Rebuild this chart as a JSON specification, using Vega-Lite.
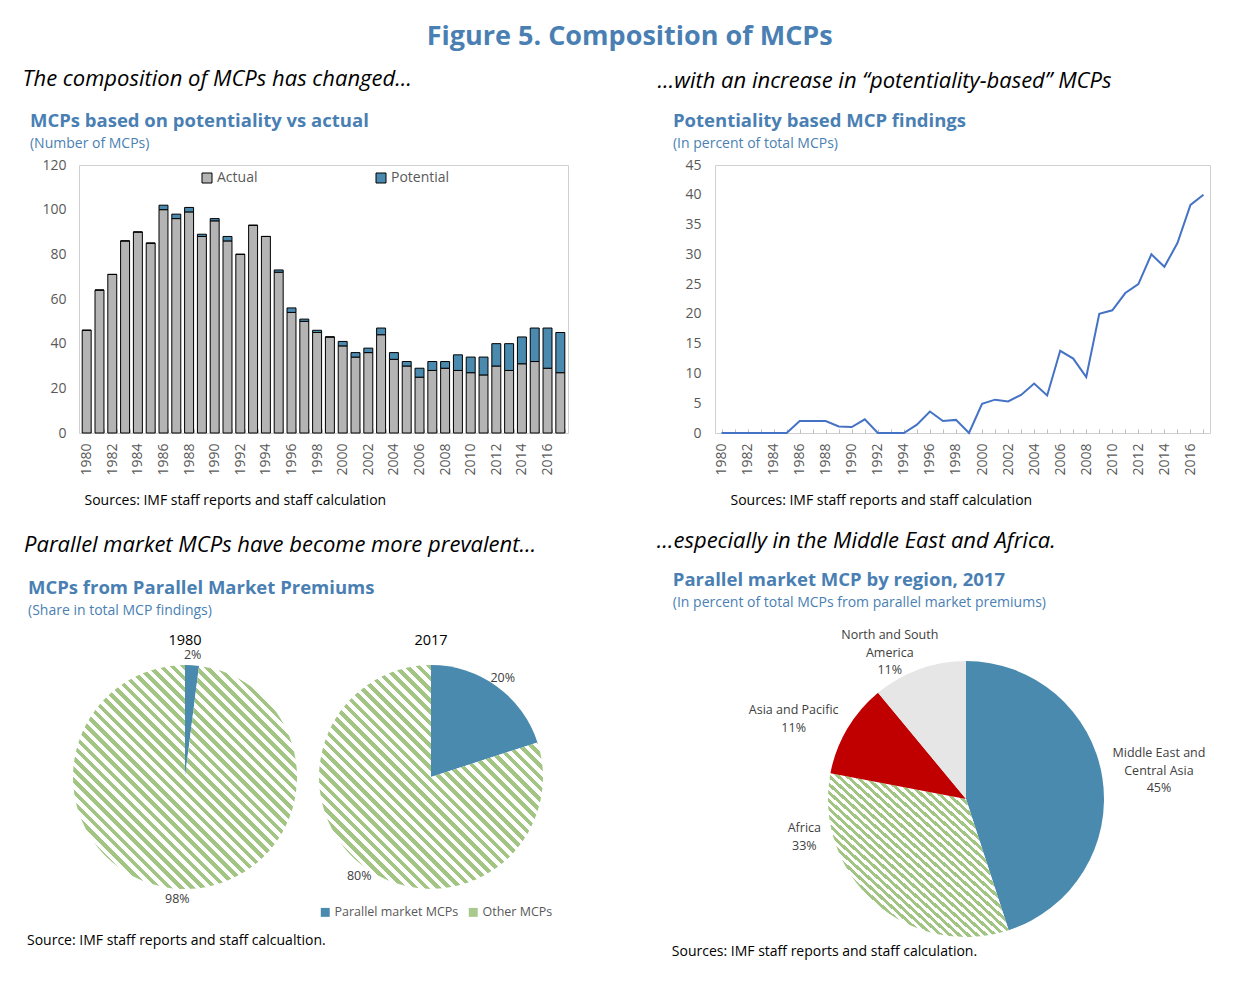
{
"$schema": "https://vega.github.io/schema/vega-lite/v6.json",
"background": "#ffffff",
"padding": {"left": 22, "top": 22, "right": 5, "bottom": 5},
"title": {"text": "Figure 5. Composition of MCPs", "anchor": "middle", "font": "Open Sans", "fontSize": 27, "fontWeight": "bold", "color": "#4a7fb3", "offset": 17, "dx": 13},
"config": {
  "font": "Open Sans",
  "view": {"stroke": null},
  "axis": {"labelFont": "Open Sans", "labelFontSize": 14, "labelColor": "#595959", "titleFont": "Open Sans", "grid": false, "domain": false, "ticks": false},
  "legend": {"labelFont": "Open Sans", "titleFont": "Open Sans"},
  "header": {"labelFont": "Open Sans"}
},
"datasets": {
  "bars": [
    {"year": 1980, "Actual": 46, "Potential": 0},
    {"year": 1981, "Actual": 64, "Potential": 0},
    {"year": 1982, "Actual": 71, "Potential": 0},
    {"year": 1983, "Actual": 86, "Potential": 0},
    {"year": 1984, "Actual": 90, "Potential": 0},
    {"year": 1985, "Actual": 85, "Potential": 0},
    {"year": 1986, "Actual": 100, "Potential": 2},
    {"year": 1987, "Actual": 96, "Potential": 2},
    {"year": 1988, "Actual": 99, "Potential": 2},
    {"year": 1989, "Actual": 88, "Potential": 1},
    {"year": 1990, "Actual": 95, "Potential": 1},
    {"year": 1991, "Actual": 86, "Potential": 2},
    {"year": 1992, "Actual": 80, "Potential": 0},
    {"year": 1993, "Actual": 93, "Potential": 0},
    {"year": 1994, "Actual": 88, "Potential": 0},
    {"year": 1995, "Actual": 72, "Potential": 1},
    {"year": 1996, "Actual": 54, "Potential": 2},
    {"year": 1997, "Actual": 50, "Potential": 1},
    {"year": 1998, "Actual": 45, "Potential": 1},
    {"year": 1999, "Actual": 43, "Potential": 0},
    {"year": 2000, "Actual": 39, "Potential": 2},
    {"year": 2001, "Actual": 34, "Potential": 2},
    {"year": 2002, "Actual": 36, "Potential": 2},
    {"year": 2003, "Actual": 44, "Potential": 3},
    {"year": 2004, "Actual": 33, "Potential": 3},
    {"year": 2005, "Actual": 30, "Potential": 2},
    {"year": 2006, "Actual": 25, "Potential": 4},
    {"year": 2007, "Actual": 28, "Potential": 4},
    {"year": 2008, "Actual": 29, "Potential": 3},
    {"year": 2009, "Actual": 28, "Potential": 7},
    {"year": 2010, "Actual": 27, "Potential": 7},
    {"year": 2011, "Actual": 26, "Potential": 8},
    {"year": 2012, "Actual": 30, "Potential": 10},
    {"year": 2013, "Actual": 28, "Potential": 12},
    {"year": 2014, "Actual": 31, "Potential": 12},
    {"year": 2015, "Actual": 32, "Potential": 15},
    {"year": 2016, "Actual": 29, "Potential": 18},
    {"year": 2017, "Actual": 27, "Potential": 18}
  ],
  "line": [
    {"year": 1980, "pct": 0}, {"year": 1981, "pct": 0}, {"year": 1982, "pct": 0}, {"year": 1983, "pct": 0},
    {"year": 1984, "pct": 0}, {"year": 1985, "pct": 0}, {"year": 1986, "pct": 2.0}, {"year": 1987, "pct": 2.0},
    {"year": 1988, "pct": 2.0}, {"year": 1989, "pct": 1.1}, {"year": 1990, "pct": 1.0}, {"year": 1991, "pct": 2.3},
    {"year": 1992, "pct": 0}, {"year": 1993, "pct": 0}, {"year": 1994, "pct": 0}, {"year": 1995, "pct": 1.4},
    {"year": 1996, "pct": 3.6}, {"year": 1997, "pct": 2.0}, {"year": 1998, "pct": 2.2}, {"year": 1999, "pct": 0},
    {"year": 2000, "pct": 4.9}, {"year": 2001, "pct": 5.6}, {"year": 2002, "pct": 5.3}, {"year": 2003, "pct": 6.4},
    {"year": 2004, "pct": 8.3}, {"year": 2005, "pct": 6.3}, {"year": 2006, "pct": 13.8}, {"year": 2007, "pct": 12.5},
    {"year": 2008, "pct": 9.4}, {"year": 2009, "pct": 20.0}, {"year": 2010, "pct": 20.6}, {"year": 2011, "pct": 23.5},
    {"year": 2012, "pct": 25.0}, {"year": 2013, "pct": 30.0}, {"year": 2014, "pct": 27.9}, {"year": 2015, "pct": 31.9},
    {"year": 2016, "pct": 38.3}, {"year": 2017, "pct": 40.0}
  ],
  "pies": [
    {"year": "1980", "cat": "Parallel market MCPs", "share": 2, "label": "2%"},
    {"year": "1980", "cat": "Other MCPs", "share": 98, "label": "98%"},
    {"year": "2017", "cat": "Parallel market MCPs", "share": 20, "label": "20%"},
    {"year": "2017", "cat": "Other MCPs", "share": 80, "label": "80%"}
  ],
  "regions": [
    {"region": "Middle East and Central Asia", "share": 45, "label": "Middle East and\nCentral Asia\n45%"},
    {"region": "Africa", "share": 33, "label": "Africa\n33%"},
    {"region": "Asia and Pacific", "share": 11, "label": "Asia and Pacific\n11%"},
    {"region": "North and South America", "share": 11, "label": "North and South\nAmerica\n11%"}
  ]
},
"resolve": {"scale": {"color": "independent", "theta": "independent"}, "legend": {"color": "independent"}},
"spacing": 22,
"vconcat": [
 {
  "spacing": 88,
  "hconcat": [
   {
    "title": {"text": "The composition of MCPs has changed…", "anchor": "start", "font": "Open Sans", "fontSize": 22, "fontStyle": "italic", "fontWeight": "normal", "color": "#000000", "offset": 21, "dx": -7},
    "vconcat": [
     {
      "title": {"text": "MCPs based on potentiality vs actual", "subtitle": "(Number of MCPs)", "anchor": "start", "font": "Open Sans", "fontSize": 18.5, "fontWeight": "bold", "color": "#4a7fb3", "subtitleFont": "Open Sans", "subtitleFontSize": 14, "subtitleColor": "#4a7fb3", "subtitlePadding": 6.5, "offset": 7, "dx": -12},
      "width": 489,
      "height": 268,
      "view": {"stroke": "#d0d0d0"},
      "data": {"name": "bars"},
      "transform": [{"fold": ["Actual", "Potential"], "as": ["type", "count"]}],
      "mark": {"type": "bar", "stroke": "#000000", "strokeWidth": 1},
      "encoding": {
        "x": {"field": "year", "type": "ordinal", "scale": {"paddingInner": 0.3, "paddingOuter": 0.25},
              "axis": {"labelAngle": -90, "labelExpr": "datum.value % 2 == 0 ? datum.label : ''", "labelPadding": 14, "ticks": true, "tickSize": -4, "tickBand": "extent", "tickColor": "#bfbfbf",
                       "title": "Sources: IMF staff reports and staff calculation", "titleFontSize": 14, "titleFontWeight": "normal", "titleColor": "#000000", "titleAnchor": "start", "titleAlign": "left", "titleX": 5, "titlePadding": 18}},
        "y": {"field": "count", "type": "quantitative", "stack": "zero", "scale": {"domain": [0, 120], "nice": false},
              "axis": {"values": [0, 20, 40, 60, 80, 100, 120], "title": null, "labelPadding": 13}},
        "color": {"field": "type", "type": "nominal", "scale": {"domain": ["Actual", "Potential"], "range": ["#b4b4b4", "#4a8aaf"]},
                  "legend": {"orient": "none", "legendX": 121, "legendY": 6, "direction": "horizontal", "title": null, "symbolType": "square", "symbolSize": 100, "symbolStrokeColor": "#000000", "symbolStrokeWidth": 1, "labelFontSize": 14, "labelColor": "#595959", "columnPadding": 116, "labelOffset": 3}},
        "order": {"field": "type", "sort": "ascending"}
      }
     }
    ]
   },
   {
    "title": {"text": "…with an increase in “potentiality-based” MCPs", "anchor": "start", "font": "Open Sans", "fontSize": 22, "fontStyle": "italic", "fontWeight": "normal", "color": "#000000", "offset": 19, "dx": -15},
    "vconcat": [
     {
      "title": {"text": "Potentiality based MCP findings", "subtitle": "(In percent of total MCPs)", "anchor": "start", "font": "Open Sans", "fontSize": 18.5, "fontWeight": "bold", "color": "#4a7fb3", "subtitleFont": "Open Sans", "subtitleFontSize": 14, "subtitleColor": "#4a7fb3", "subtitlePadding": 6.5, "offset": 7, "dx": -12},
      "width": 495,
      "height": 268,
      "view": {"stroke": "#d0d0d0"},
      "data": {"name": "line"},
      "mark": {"type": "line", "color": "#4472c4", "strokeWidth": 2},
      "encoding": {
        "x": {"field": "year", "type": "ordinal", "scale": {"type": "point", "padding": 0.5},
              "axis": {"labelAngle": -90, "labelExpr": "datum.value % 2 == 0 ? datum.label : ''", "labelPadding": 14, "ticks": true, "tickSize": -4, "tickColor": "#bfbfbf",
                       "title": "Sources: IMF staff reports and staff calculation", "titleFontSize": 14, "titleFontWeight": "normal", "titleColor": "#000000", "titleAnchor": "start", "titleAlign": "left", "titleX": 15, "titlePadding": 18}},
        "y": {"field": "pct", "type": "quantitative", "scale": {"domain": [0, 45], "nice": false},
              "axis": {"values": [0, 5, 10, 15, 20, 25, 30, 35, 40, 45], "title": null, "labelPadding": 14}}
      }
     }
    ]
   }
  ]
 },
 {
  "spacing": 103,
  "resolve": {"scale": {"color": "independent", "theta": "independent"}, "legend": {"color": "independent"}},
  "hconcat": [
   {
    "title": {"text": "Parallel market MCPs have become more prevalent…", "anchor": "start", "font": "Open Sans", "fontSize": 22, "fontStyle": "italic", "fontWeight": "normal", "color": "#000000", "offset": 22, "dx": -3},
    "vconcat": [
     {
      "title": {"text": "MCPs from Parallel Market Premiums", "subtitle": "(Share in total MCP findings)", "anchor": "start", "font": "Open Sans", "fontSize": 18.5, "fontWeight": "bold", "color": "#4a7fb3", "subtitleFont": "Open Sans", "subtitleFontSize": 14, "subtitleColor": "#4a7fb3", "subtitlePadding": 6.5, "offset": 15, "dx": 1},
      "vconcat": [
       {
        "title": {"text": "Source: IMF staff reports and staff calcualtion.", "orient": "bottom", "anchor": "start", "font": "Open Sans", "fontSize": 14, "fontWeight": "normal", "color": "#000000", "offset": 29, "dx": -46},
        "data": {"name": "pies"},
        "facet": {"column": {"field": "year", "type": "nominal", "title": null, "header": {"labelFontSize": 14.5, "labelColor": "#000000", "labelPadding": 1}}},
        "spacing": 22,
        "spec": {
          "width": 212,
          "height": 230,
          "layer": [
            {
              "mark": {"type": "arc", "outerRadius": 112},
              "encoding": {
                "theta": {"field": "share", "type": "quantitative", "stack": true},
                "order": {"field": "share", "sort": "ascending"},
                "fill": {"condition": {"test": "datum.cat === 'Parallel market MCPs'", "value": "#4a8aaf"}, "value": {"gradient": "linear", "x1": 0, "y1": 1, "x2": 1, "y2": 0, "stops": [
{"offset":0,"color":"#fff"},
{"offset":0.0125,"color":"#fff"},{"offset":0.0125,"color":"#a2c584"},{"offset":0.025,"color":"#a2c584"},{"offset":0.025,"color":"#fff"},
{"offset":0.0375,"color":"#fff"},{"offset":0.0375,"color":"#a2c584"},{"offset":0.05,"color":"#a2c584"},{"offset":0.05,"color":"#fff"},
{"offset":0.0625,"color":"#fff"},{"offset":0.0625,"color":"#a2c584"},{"offset":0.075,"color":"#a2c584"},{"offset":0.075,"color":"#fff"},
{"offset":0.0875,"color":"#fff"},{"offset":0.0875,"color":"#a2c584"},{"offset":0.1,"color":"#a2c584"},{"offset":0.1,"color":"#fff"},
{"offset":0.1125,"color":"#fff"},{"offset":0.1125,"color":"#a2c584"},{"offset":0.125,"color":"#a2c584"},{"offset":0.125,"color":"#fff"},
{"offset":0.1375,"color":"#fff"},{"offset":0.1375,"color":"#a2c584"},{"offset":0.15,"color":"#a2c584"},{"offset":0.15,"color":"#fff"},
{"offset":0.1625,"color":"#fff"},{"offset":0.1625,"color":"#a2c584"},{"offset":0.175,"color":"#a2c584"},{"offset":0.175,"color":"#fff"},
{"offset":0.1875,"color":"#fff"},{"offset":0.1875,"color":"#a2c584"},{"offset":0.2,"color":"#a2c584"},{"offset":0.2,"color":"#fff"},
{"offset":0.2125,"color":"#fff"},{"offset":0.2125,"color":"#a2c584"},{"offset":0.225,"color":"#a2c584"},{"offset":0.225,"color":"#fff"},
{"offset":0.2375,"color":"#fff"},{"offset":0.2375,"color":"#a2c584"},{"offset":0.25,"color":"#a2c584"},{"offset":0.25,"color":"#fff"},
{"offset":0.2625,"color":"#fff"},{"offset":0.2625,"color":"#a2c584"},{"offset":0.275,"color":"#a2c584"},{"offset":0.275,"color":"#fff"},
{"offset":0.2875,"color":"#fff"},{"offset":0.2875,"color":"#a2c584"},{"offset":0.3,"color":"#a2c584"},{"offset":0.3,"color":"#fff"},
{"offset":0.3125,"color":"#fff"},{"offset":0.3125,"color":"#a2c584"},{"offset":0.325,"color":"#a2c584"},{"offset":0.325,"color":"#fff"},
{"offset":0.3375,"color":"#fff"},{"offset":0.3375,"color":"#a2c584"},{"offset":0.35,"color":"#a2c584"},{"offset":0.35,"color":"#fff"},
{"offset":0.3625,"color":"#fff"},{"offset":0.3625,"color":"#a2c584"},{"offset":0.375,"color":"#a2c584"},{"offset":0.375,"color":"#fff"},
{"offset":0.3875,"color":"#fff"},{"offset":0.3875,"color":"#a2c584"},{"offset":0.4,"color":"#a2c584"},{"offset":0.4,"color":"#fff"},
{"offset":0.4125,"color":"#fff"},{"offset":0.4125,"color":"#a2c584"},{"offset":0.425,"color":"#a2c584"},{"offset":0.425,"color":"#fff"},
{"offset":0.4375,"color":"#fff"},{"offset":0.4375,"color":"#a2c584"},{"offset":0.45,"color":"#a2c584"},{"offset":0.45,"color":"#fff"},
{"offset":0.4625,"color":"#fff"},{"offset":0.4625,"color":"#a2c584"},{"offset":0.475,"color":"#a2c584"},{"offset":0.475,"color":"#fff"},
{"offset":0.4875,"color":"#fff"},{"offset":0.4875,"color":"#a2c584"},{"offset":0.5,"color":"#a2c584"},{"offset":0.5,"color":"#fff"},
{"offset":0.5125,"color":"#fff"},{"offset":0.5125,"color":"#a2c584"},{"offset":0.525,"color":"#a2c584"},{"offset":0.525,"color":"#fff"},
{"offset":0.5375,"color":"#fff"},{"offset":0.5375,"color":"#a2c584"},{"offset":0.55,"color":"#a2c584"},{"offset":0.55,"color":"#fff"},
{"offset":0.5625,"color":"#fff"},{"offset":0.5625,"color":"#a2c584"},{"offset":0.575,"color":"#a2c584"},{"offset":0.575,"color":"#fff"},
{"offset":0.5875,"color":"#fff"},{"offset":0.5875,"color":"#a2c584"},{"offset":0.6,"color":"#a2c584"},{"offset":0.6,"color":"#fff"},
{"offset":0.6125,"color":"#fff"},{"offset":0.6125,"color":"#a2c584"},{"offset":0.625,"color":"#a2c584"},{"offset":0.625,"color":"#fff"},
{"offset":0.6375,"color":"#fff"},{"offset":0.6375,"color":"#a2c584"},{"offset":0.65,"color":"#a2c584"},{"offset":0.65,"color":"#fff"},
{"offset":0.6625,"color":"#fff"},{"offset":0.6625,"color":"#a2c584"},{"offset":0.675,"color":"#a2c584"},{"offset":0.675,"color":"#fff"},
{"offset":0.6875,"color":"#fff"},{"offset":0.6875,"color":"#a2c584"},{"offset":0.7,"color":"#a2c584"},{"offset":0.7,"color":"#fff"},
{"offset":0.7125,"color":"#fff"},{"offset":0.7125,"color":"#a2c584"},{"offset":0.725,"color":"#a2c584"},{"offset":0.725,"color":"#fff"},
{"offset":0.7375,"color":"#fff"},{"offset":0.7375,"color":"#a2c584"},{"offset":0.75,"color":"#a2c584"},{"offset":0.75,"color":"#fff"},
{"offset":0.7625,"color":"#fff"},{"offset":0.7625,"color":"#a2c584"},{"offset":0.775,"color":"#a2c584"},{"offset":0.775,"color":"#fff"},
{"offset":0.7875,"color":"#fff"},{"offset":0.7875,"color":"#a2c584"},{"offset":0.8,"color":"#a2c584"},{"offset":0.8,"color":"#fff"},
{"offset":0.8125,"color":"#fff"},{"offset":0.8125,"color":"#a2c584"},{"offset":0.825,"color":"#a2c584"},{"offset":0.825,"color":"#fff"},
{"offset":0.8375,"color":"#fff"},{"offset":0.8375,"color":"#a2c584"},{"offset":0.85,"color":"#a2c584"},{"offset":0.85,"color":"#fff"},
{"offset":0.8625,"color":"#fff"},{"offset":0.8625,"color":"#a2c584"},{"offset":0.875,"color":"#a2c584"},{"offset":0.875,"color":"#fff"},
{"offset":0.8875,"color":"#fff"},{"offset":0.8875,"color":"#a2c584"},{"offset":0.9,"color":"#a2c584"},{"offset":0.9,"color":"#fff"},
{"offset":0.9125,"color":"#fff"},{"offset":0.9125,"color":"#a2c584"},{"offset":0.925,"color":"#a2c584"},{"offset":0.925,"color":"#fff"},
{"offset":0.9375,"color":"#fff"},{"offset":0.9375,"color":"#a2c584"},{"offset":0.95,"color":"#a2c584"},{"offset":0.95,"color":"#fff"},
{"offset":0.9625,"color":"#fff"},{"offset":0.9625,"color":"#a2c584"},{"offset":0.975,"color":"#a2c584"},{"offset":0.975,"color":"#fff"},
{"offset":0.9875,"color":"#fff"},{"offset":0.9875,"color":"#a2c584"},{"offset":1,"color":"#a2c584"}
                ]}}
              }
            },
            {
              "mark": {"type": "text", "radius": 122, "fontSize": 12.5, "color": "#404040"},
              "encoding": {
                "theta": {"field": "share", "type": "quantitative", "stack": true},
                "order": {"field": "share", "sort": "ascending"},
                "text": {"field": "label", "type": "nominal"}
              }
            },
            {
              "mark": {"type": "text"},
              "encoding": {
                "color": {"field": "cat", "type": "nominal", "scale": {"domain": ["Parallel market MCPs", "Other MCPs"], "range": ["#4a8aaf", "#a9c98d"]},
                  "legend": {"orient": "none", "legendX": 240, "legendY": 244, "direction": "horizontal", "title": null, "symbolType": "square", "symbolSize": 80, "symbolStrokeWidth": 0, "labelFontSize": 12.5, "labelColor": "#595959", "columnPadding": 8, "labelOffset": 3}}
              }
            }
          ]
        }
       }
      ]
     }
    ]
   },
   {
    "title": {"text": "…especially in the Middle East and Africa.", "anchor": "start", "font": "Open Sans", "fontSize": 22, "fontStyle": "italic", "fontWeight": "normal", "color": "#000000", "offset": 18, "dx": -15},
    "vconcat": [
     {
      "title": {"text": "Parallel market MCP by region, 2017", "subtitle": "(In percent of total MCPs from parallel market premiums)", "anchor": "start", "font": "Open Sans", "fontSize": 18.5, "fontWeight": "bold", "color": "#4a7fb3", "subtitleFont": "Open Sans", "subtitleFontSize": 14, "subtitleColor": "#4a7fb3", "subtitlePadding": 6.5, "offset": 19, "dx": 1},
      "vconcat": [
       {
        "title": {"text": "Sources: IMF staff reports and staff calculation.", "orient": "bottom", "anchor": "start", "font": "Open Sans", "fontSize": 14, "fontWeight": "normal", "color": "#000000", "offset": 8, "dx": -77},
        "width": 276,
        "height": 274,
        "data": {"name": "regions"},
        "transform": [{"stack": "share", "groupby": [], "sort": [{"field": "share", "order": "descending"}, {"field": "region", "order": "ascending"}], "as": ["t0", "t1"]}],
        "layer": [
          {
            "mark": {"type": "arc", "outerRadius": 138},
            "encoding": {
              "theta": {"field": "t0", "type": "quantitative", "stack": null, "scale": {"domain": [0, 100]}},
              "theta2": {"field": "t1"},
              "fill": {"condition": [
                  {"test": "datum.region === 'Middle East and Central Asia'", "value": "#4a8aaf"},
                  {"test": "datum.region === 'Asia and Pacific'", "value": "#c00000"},
                  {"test": "datum.region === 'North and South America'", "value": "#e6e6e6"}
                ],
                "value": {"gradient": "linear", "x1": 0, "y1": 1, "x2": 1, "y2": 0, "stops": [
{"offset":0,"color":"#fff"},
{"offset":0.0125,"color":"#fff"},{"offset":0.0125,"color":"#a2c584"},{"offset":0.025,"color":"#a2c584"},{"offset":0.025,"color":"#fff"},
{"offset":0.0375,"color":"#fff"},{"offset":0.0375,"color":"#a2c584"},{"offset":0.05,"color":"#a2c584"},{"offset":0.05,"color":"#fff"},
{"offset":0.0625,"color":"#fff"},{"offset":0.0625,"color":"#a2c584"},{"offset":0.075,"color":"#a2c584"},{"offset":0.075,"color":"#fff"},
{"offset":0.0875,"color":"#fff"},{"offset":0.0875,"color":"#a2c584"},{"offset":0.1,"color":"#a2c584"},{"offset":0.1,"color":"#fff"},
{"offset":0.1125,"color":"#fff"},{"offset":0.1125,"color":"#a2c584"},{"offset":0.125,"color":"#a2c584"},{"offset":0.125,"color":"#fff"},
{"offset":0.1375,"color":"#fff"},{"offset":0.1375,"color":"#a2c584"},{"offset":0.15,"color":"#a2c584"},{"offset":0.15,"color":"#fff"},
{"offset":0.1625,"color":"#fff"},{"offset":0.1625,"color":"#a2c584"},{"offset":0.175,"color":"#a2c584"},{"offset":0.175,"color":"#fff"},
{"offset":0.1875,"color":"#fff"},{"offset":0.1875,"color":"#a2c584"},{"offset":0.2,"color":"#a2c584"},{"offset":0.2,"color":"#fff"},
{"offset":0.2125,"color":"#fff"},{"offset":0.2125,"color":"#a2c584"},{"offset":0.225,"color":"#a2c584"},{"offset":0.225,"color":"#fff"},
{"offset":0.2375,"color":"#fff"},{"offset":0.2375,"color":"#a2c584"},{"offset":0.25,"color":"#a2c584"},{"offset":0.25,"color":"#fff"},
{"offset":0.2625,"color":"#fff"},{"offset":0.2625,"color":"#a2c584"},{"offset":0.275,"color":"#a2c584"},{"offset":0.275,"color":"#fff"},
{"offset":0.2875,"color":"#fff"},{"offset":0.2875,"color":"#a2c584"},{"offset":0.3,"color":"#a2c584"},{"offset":0.3,"color":"#fff"},
{"offset":0.3125,"color":"#fff"},{"offset":0.3125,"color":"#a2c584"},{"offset":0.325,"color":"#a2c584"},{"offset":0.325,"color":"#fff"},
{"offset":0.3375,"color":"#fff"},{"offset":0.3375,"color":"#a2c584"},{"offset":0.35,"color":"#a2c584"},{"offset":0.35,"color":"#fff"},
{"offset":0.3625,"color":"#fff"},{"offset":0.3625,"color":"#a2c584"},{"offset":0.375,"color":"#a2c584"},{"offset":0.375,"color":"#fff"},
{"offset":0.3875,"color":"#fff"},{"offset":0.3875,"color":"#a2c584"},{"offset":0.4,"color":"#a2c584"},{"offset":0.4,"color":"#fff"},
{"offset":0.4125,"color":"#fff"},{"offset":0.4125,"color":"#a2c584"},{"offset":0.425,"color":"#a2c584"},{"offset":0.425,"color":"#fff"},
{"offset":0.4375,"color":"#fff"},{"offset":0.4375,"color":"#a2c584"},{"offset":0.45,"color":"#a2c584"},{"offset":0.45,"color":"#fff"},
{"offset":0.4625,"color":"#fff"},{"offset":0.4625,"color":"#a2c584"},{"offset":0.475,"color":"#a2c584"},{"offset":0.475,"color":"#fff"},
{"offset":0.4875,"color":"#fff"},{"offset":0.4875,"color":"#a2c584"},{"offset":0.5,"color":"#a2c584"},{"offset":0.5,"color":"#fff"},
{"offset":0.5125,"color":"#fff"},{"offset":0.5125,"color":"#a2c584"},{"offset":0.525,"color":"#a2c584"},{"offset":0.525,"color":"#fff"},
{"offset":0.5375,"color":"#fff"},{"offset":0.5375,"color":"#a2c584"},{"offset":0.55,"color":"#a2c584"},{"offset":0.55,"color":"#fff"},
{"offset":0.5625,"color":"#fff"},{"offset":0.5625,"color":"#a2c584"},{"offset":0.575,"color":"#a2c584"},{"offset":0.575,"color":"#fff"},
{"offset":0.5875,"color":"#fff"},{"offset":0.5875,"color":"#a2c584"},{"offset":0.6,"color":"#a2c584"},{"offset":0.6,"color":"#fff"},
{"offset":0.6125,"color":"#fff"},{"offset":0.6125,"color":"#a2c584"},{"offset":0.625,"color":"#a2c584"},{"offset":0.625,"color":"#fff"},
{"offset":0.6375,"color":"#fff"},{"offset":0.6375,"color":"#a2c584"},{"offset":0.65,"color":"#a2c584"},{"offset":0.65,"color":"#fff"},
{"offset":0.6625,"color":"#fff"},{"offset":0.6625,"color":"#a2c584"},{"offset":0.675,"color":"#a2c584"},{"offset":0.675,"color":"#fff"},
{"offset":0.6875,"color":"#fff"},{"offset":0.6875,"color":"#a2c584"},{"offset":0.7,"color":"#a2c584"},{"offset":0.7,"color":"#fff"},
{"offset":0.7125,"color":"#fff"},{"offset":0.7125,"color":"#a2c584"},{"offset":0.725,"color":"#a2c584"},{"offset":0.725,"color":"#fff"},
{"offset":0.7375,"color":"#fff"},{"offset":0.7375,"color":"#a2c584"},{"offset":0.75,"color":"#a2c584"},{"offset":0.75,"color":"#fff"},
{"offset":0.7625,"color":"#fff"},{"offset":0.7625,"color":"#a2c584"},{"offset":0.775,"color":"#a2c584"},{"offset":0.775,"color":"#fff"},
{"offset":0.7875,"color":"#fff"},{"offset":0.7875,"color":"#a2c584"},{"offset":0.8,"color":"#a2c584"},{"offset":0.8,"color":"#fff"},
{"offset":0.8125,"color":"#fff"},{"offset":0.8125,"color":"#a2c584"},{"offset":0.825,"color":"#a2c584"},{"offset":0.825,"color":"#fff"},
{"offset":0.8375,"color":"#fff"},{"offset":0.8375,"color":"#a2c584"},{"offset":0.85,"color":"#a2c584"},{"offset":0.85,"color":"#fff"},
{"offset":0.8625,"color":"#fff"},{"offset":0.8625,"color":"#a2c584"},{"offset":0.875,"color":"#a2c584"},{"offset":0.875,"color":"#fff"},
{"offset":0.8875,"color":"#fff"},{"offset":0.8875,"color":"#a2c584"},{"offset":0.9,"color":"#a2c584"},{"offset":0.9,"color":"#fff"},
{"offset":0.9125,"color":"#fff"},{"offset":0.9125,"color":"#a2c584"},{"offset":0.925,"color":"#a2c584"},{"offset":0.925,"color":"#fff"},
{"offset":0.9375,"color":"#fff"},{"offset":0.9375,"color":"#a2c584"},{"offset":0.95,"color":"#a2c584"},{"offset":0.95,"color":"#fff"},
{"offset":0.9625,"color":"#fff"},{"offset":0.9625,"color":"#a2c584"},{"offset":0.975,"color":"#a2c584"},{"offset":0.975,"color":"#fff"},
{"offset":0.9875,"color":"#fff"},{"offset":0.9875,"color":"#a2c584"},{"offset":1,"color":"#a2c584"}
                ]}}
            }
          },
          {
            "transform": [{"filter": "datum.region === 'Middle East and Central Asia'"}],
            "mark": {"type": "text", "radius": 195, "thetaOffset": 1.426, "dy": -17.5, "fontSize": 12.5, "color": "#404040", "lineBreak": "\n", "lineHeight": 17.5},
            "encoding": {"theta": {"field": "t0", "type": "quantitative", "stack": null}, "text": {"field": "label", "type": "nominal"}}
          },
          {
            "transform": [{"filter": "datum.region === 'Africa'"}],
            "mark": {"type": "text", "radius": 166, "thetaOffset": 1.655, "dy": -8.75, "fontSize": 12.5, "color": "#404040", "lineBreak": "\n", "lineHeight": 17.5},
            "encoding": {"theta": {"field": "t0", "type": "quantitative", "stack": null}, "text": {"field": "label", "type": "nominal"}}
          },
          {
            "transform": [{"filter": "datum.region === 'Asia and Pacific'"}],
            "mark": {"type": "text", "radius": 190, "thetaOffset": 0.246, "dy": -8.75, "fontSize": 12.5, "color": "#404040", "lineBreak": "\n", "lineHeight": 17.5},
            "encoding": {"theta": {"field": "t0", "type": "quantitative", "stack": null}, "text": {"field": "label", "type": "nominal"}}
          },
          {
            "transform": [{"filter": "datum.region === 'North and South America'"}],
            "mark": {"type": "text", "radius": 165, "thetaOffset": 0.211, "dy": -17.5, "fontSize": 12.5, "color": "#404040", "lineBreak": "\n", "lineHeight": 17.5},
            "encoding": {"theta": {"field": "t0", "type": "quantitative", "stack": null}, "text": {"field": "label", "type": "nominal"}}
          }
        ]
       }
      ]
     }
    ]
   }
  ]
 }
]
}
